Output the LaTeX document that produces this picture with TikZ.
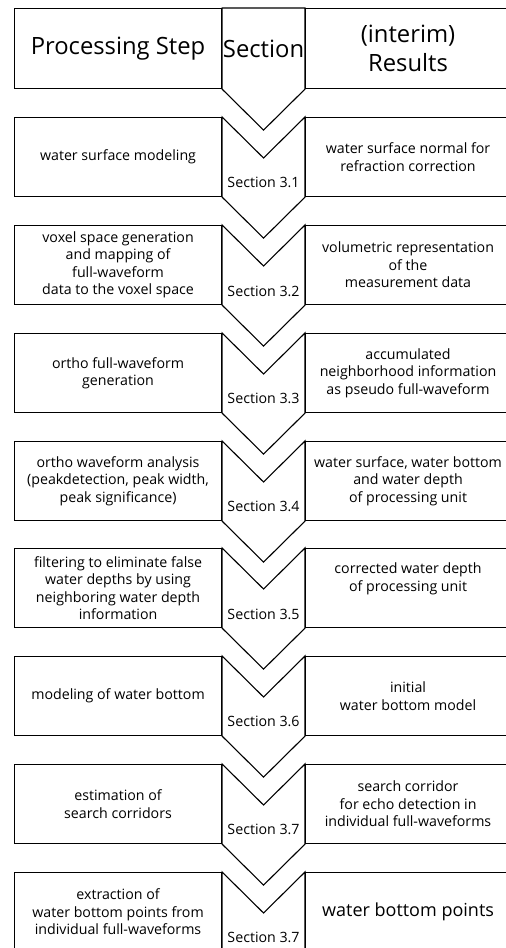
\documentclass[tikz,border=0pt]{standalone}
\usepackage{fontspec}
\setmainfont{Open Sans}
\usetikzlibrary{calc}
\newcommand{\hdfont}{\fontsize{23.8}{29.5}\selectfont}
\newcommand{\txfont}{\fontsize{14.2}{17.5}\selectfont}
\tikzset{
  box/.style={draw, line width=1.1pt, minimum height=79pt, inner sep=0pt,
    align=center, anchor=north west, font=\txfont},
  stepbox/.style={box, minimum width=207pt},
  resbox/.style={box, minimum width=205pt},
  chevron/.style={draw, line width=1.1pt, line join=miter},
  seclabel/.style={font=\txfont, inner sep=0pt},
}

\begin{document}
\begin{tikzpicture}[x=1pt, y=-1pt]
  \useasboundingbox (0,0) rectangle (506,948); %
  \clip (0,0) rectangle (506,948); %
  % header
  \node[stepbox, minimum height=80pt, font=\hdfont] (hs) at (14,8) {Processing Step}; %
  \node[resbox, minimum height=80pt, font=\hdfont] (hr) at (305,8) {(interim)\\Results}; %
  \draw[chevron] (hs.north east) -- (hr.north west) -- (hr.south west) %
    -- ($(hs.south east)!.5!(hr.south west)+(0,41)$) -- (hs.south east) -- cycle; %
  \node[font=\hdfont, inner sep=0pt] (hc) at ($(hs.east)!.5!(hr.west)$) {Section}; %
  % step 1
  \node[stepbox] (s1) at (14,117) {water surface modeling}; %
  \node[resbox] (r1) at (305,117) {water surface normal for\\refraction correction}; %
  \draw[chevron] (s1.north east) -- ($(s1.north east)!.5!(r1.north west)+(0,41)$) %
    -- (r1.north west) -- (r1.south west) %
    -- ($(s1.south east)!.5!(r1.south west)+(0,41)$) -- (s1.south east) -- cycle; %
  \node[seclabel] (c1) at ($(s1.south east)!.5!(r1.south west)+(0,-15)$) {Section 3.1}; %
  % step 2
  \node[stepbox] (s2) at (14,225) {voxel space generation\\and mapping of\\full-waveform\\data to the voxel space}; %
  \node[resbox] (r2) at (305,225) {volumetric representation\\of the\\measurement data}; %
  \draw[chevron] (s2.north east) -- ($(s2.north east)!.5!(r2.north west)+(0,41)$) %
    -- (r2.north west) -- (r2.south west) %
    -- ($(s2.south east)!.5!(r2.south west)+(0,41)$) -- (s2.south east) -- cycle; %
  \node[seclabel] (c2) at ($(s2.south east)!.5!(r2.south west)+(0,-14)$) {Section 3.2}; %
  % step 3
  \node[stepbox] (s3) at (14,333) {ortho full-waveform\\generation}; %
  \node[resbox] (r3) at (305,333) {accumulated\\neighborhood information\\as pseudo full-waveform}; %
  \draw[chevron] (s3.north east) -- ($(s3.north east)!.5!(r3.north west)+(0,41)$) %
    -- (r3.north west) -- (r3.south west) %
    -- ($(s3.south east)!.5!(r3.south west)+(0,41)$) -- (s3.south east) -- cycle; %
  \node[seclabel] (c3) at ($(s3.south east)!.5!(r3.south west)+(0,-15)$) {Section 3.3}; %
  % step 4
  \node[stepbox] (s4) at (14,441) {ortho waveform analysis\\(peakdetection, peak width,\\peak significance)}; %
  \node[resbox] (r4) at (305,441) {water surface, water bottom\\and water depth\\of processing unit}; %
  \draw[chevron] (s4.north east) -- ($(s4.north east)!.5!(r4.north west)+(0,41)$) %
    -- (r4.north west) -- (r4.south west) %
    -- ($(s4.south east)!.5!(r4.south west)+(0,41)$) -- (s4.south east) -- cycle; %
  \node[seclabel] (c4) at ($(s4.south east)!.5!(r4.south west)+(0,-15)$) {Section 3.4}; %
  % step 5
  \node[stepbox] (s5) at (14,548) {filtering to eliminate false\\water depths by using\\neighboring water depth\\information}; %
  \node[resbox] (r5) at (305,548) {corrected water depth\\of processing unit\\[4pt]}; %
  \draw[chevron] (s5.north east) -- ($(s5.north east)!.5!(r5.north west)+(0,41)$) %
    -- (r5.north west) -- (r5.south west) %
    -- ($(s5.south east)!.5!(r5.south west)+(0,41)$) -- (s5.south east) -- cycle; %
  \node[seclabel] (c5) at ($(s5.south east)!.5!(r5.south west)+(0,-14)$) {Section 3.5}; %
  % step 6
  \node[stepbox] (s6) at (14,656) {modeling of water bottom}; %
  \node[resbox] (r6) at (305,656) {initial\\water bottom model}; %
  \draw[chevron] (s6.north east) -- ($(s6.north east)!.5!(r6.north west)+(0,41)$) %
    -- (r6.north west) -- (r6.south west) %
    -- ($(s6.south east)!.5!(r6.south west)+(0,41)$) -- (s6.south east) -- cycle; %
  \node[seclabel] (c6) at ($(s6.south east)!.5!(r6.south west)+(0,-15)$) {Section 3.6}; %
  % step 7
  \node[stepbox] (s7) at (14,764) {estimation of\\search corridors}; %
  \node[resbox] (r7) at (305,764) {search corridor\\for echo detection in\\individual full-waveforms}; %
  \draw[chevron] (s7.north east) -- ($(s7.north east)!.5!(r7.north west)+(0,41)$) %
    -- (r7.north west) -- (r7.south west) %
    -- ($(s7.south east)!.5!(r7.south west)+(0,41)$) -- (s7.south east) -- cycle; %
  \node[seclabel] (c7) at ($(s7.south east)!.5!(r7.south west)+(0,-15)$) {Section 3.7}; %
  % step 8
  \node[stepbox] (s8) at (14,872) {extraction of\\water bottom points from\\individual full-waveforms}; %
  \node[resbox, font=\fontsize{18}{22}\selectfont] (r8) at (305,872) {water bottom points}; %
  \draw[chevron] (s8.north east) -- ($(s8.north east)!.5!(r8.north west)+(0,41)$) %
    -- (r8.north west) -- (r8.south west) -- (s8.south east) -- cycle; %
  \node[seclabel] (c8) at ($(s8.south east)!.5!(r8.south west)+(0,-15)$) {Section 3.7}; %
\end{tikzpicture}
\end{document}
